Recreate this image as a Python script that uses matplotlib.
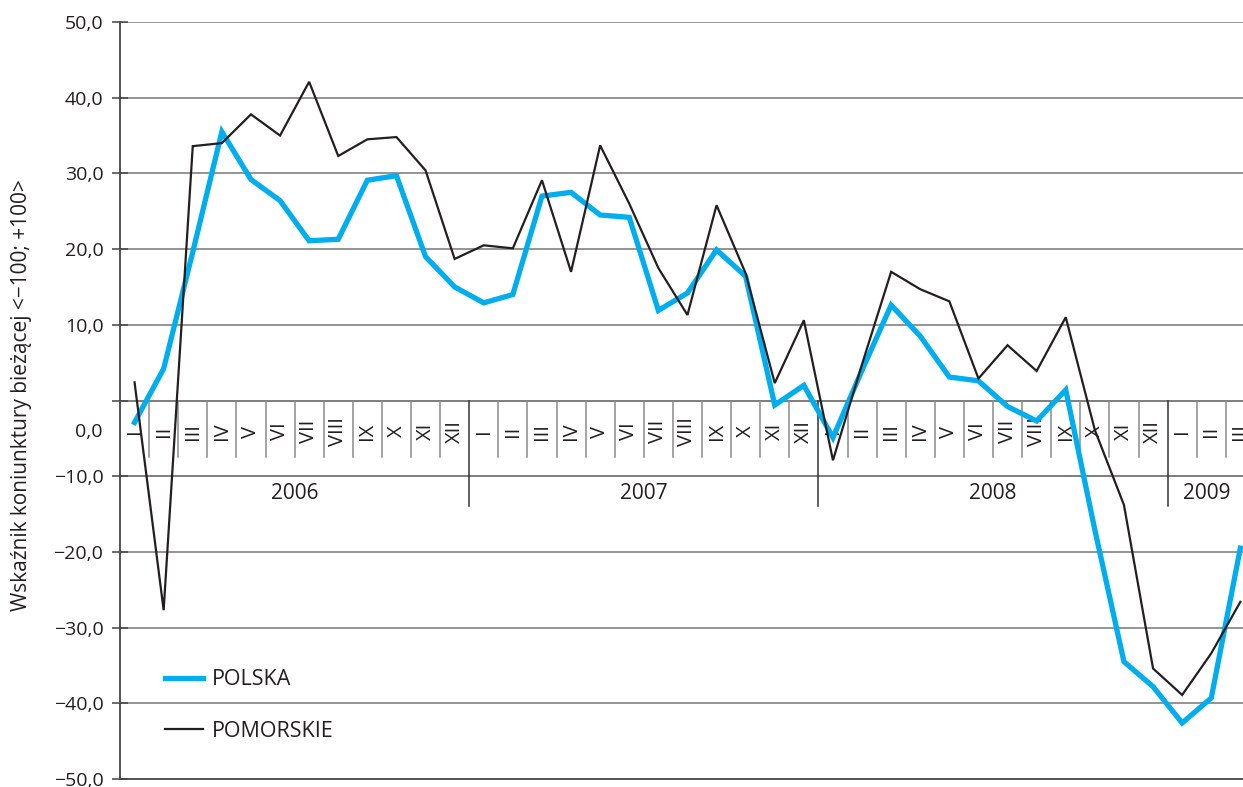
import matplotlib
matplotlib.use("Agg")
import matplotlib.pyplot as plt
from matplotlib.lines import Line2D
from matplotlib.transforms import blended_transform_factory

plt.rcParams['font.family'] = ['Open Sans', 'DejaVu Sans']

# Monthly business climate indicator, Jan 2006 - Mar 2009
months = ["I", "II", "III", "IV", "V", "VI", "VII", "VIII", "IX", "X", "XI", "XII"]
years = ["2006", "2007", "2008", "2009"]

polska = [-2.9, 4.2, 19.6, 35.5, 29.2, 26.4, 21.1, 21.3, 29.1, 29.7, 19.0, 15.0,
          12.9, 14.0, 27.0, 27.5, 24.5, 24.2, 11.9, 14.2, 19.9, 16.4, -0.6, 2.0,
          -4.9, 4.0, 12.6, 8.5, 3.1, 2.6, -0.8, -2.7, 1.4, -17.1, -34.5, -37.8,
          -42.6, -39.3, -19.5]
pomorskie = [2.4, -27.7, 33.6, 34.0, 37.8, 35.0, 42.1, 32.3, 34.5, 34.8, 30.4, 18.7,
             20.5, 20.1, 29.1, 17.0, 33.7, 26.0, 17.5, 11.3, 25.8, 16.8, 2.3, 10.6,
             -7.9, 4.8, 17.0, 14.7, 13.1, 2.9, 7.3, 3.9, 11.0, -3.9, -13.8, -35.4,
             -38.9, -33.4, -26.6]

y_ticks = list(range(-50, 51, 10))

W, H = 1243, 787
fig = plt.figure(figsize=(W / 100, H / 100), dpi=100)
ax = fig.add_axes([120 / W, 8 / H, 1.0 - 120 / W, (779 - 22) / H])

n = len(polska)
x = [i + 0.5 for i in range(n)]
ax.set_xlim(0, (W - 120) / 29.1)
ax.set_ylim(-50, 50)

# horizontal grid
for v in y_ticks:
    if v == -50:
        continue
    col = '#5a5a5a' if v in (0, -10) else '#777777'
    ax.axhline(v, color=col, lw=1.1, zorder=1)

# month / year band below the zero line
band_month_bottom = -7.5
band_year_bottom = -13.9
for b in range(1, n + 1):
    if b % 12 == 0:
        ax.plot([b, b], [0, band_year_bottom], color='#333333', lw=1.1, zorder=1)
    else:
        ax.plot([b, b], [0, band_month_bottom], color='#8a8a8a', lw=1.1, zorder=1)

for i in range(n):
    ax.text(i + 0.5, -4.1, months[i % 12], rotation=90, ha='center', va='center',
            fontsize=14.5, color='#231F20', zorder=2)

year_pos = [6, 18, 30, 37.35]
for yp, ylab in zip(year_pos, years):
    ax.text(yp, -12.35, ylab, ha='center', va='center', fontsize=15,
            color='#231F20', zorder=2)

# series
ax.plot(x, polska, color='#00AEEF', lw=3.8, zorder=4, solid_joinstyle='miter',
        clip_on=False)
ax.plot(x, pomorskie, color='#231F20', lw=1.6, zorder=5, solid_joinstyle='miter',
        clip_on=False)

# axes styling
for s in ['top', 'right']:
    ax.spines[s].set_visible(False)
ax.spines['left'].set_color('#444444')
ax.spines['left'].set_linewidth(1.3)
ax.spines['bottom'].set_color('#444444')
ax.spines['bottom'].set_linewidth(1.3)
ax.set_xticks([])
ax.set_yticks(y_ticks)
ax.set_yticklabels(["" if v == 0 else f"{v:.1f}".replace(".", ",").replace("-", "\u2212")
                    for v in y_ticks])
ax.tick_params(axis='y', direction='inout', length=12, width=1.1, color='#444444',
               labelsize=14, labelcolor='#231F20', pad=6)
trans = blended_transform_factory(ax.transAxes, ax.transData)
ax.annotate("0,0", xy=(0, -4.1), xycoords=trans, xytext=(-12.5, 0),
            textcoords='offset points', ha='right', va='center', fontsize=14,
            color='#231F20')

fig.text(22 / W, (H - 395) / H, "Wskaźnik koniunktury bieżącej <\u2212100; +100>",
         rotation=90, ha='center', va='center', fontsize=15, color='#231F20')

handles = [Line2D([], [], color='#00AEEF', lw=3.8),
           Line2D([], [], color='#231F20', lw=1.6)]
ax.legend(handles, ["POLSKA", "POMORSKIE"], loc='center left',
          bbox_to_anchor=(165 / W, (H - 705.5) / H), bbox_transform=fig.transFigure,
          frameon=False, fontsize=15.5, handlelength=1.75, handletextpad=0.42,
          borderpad=0, borderaxespad=0, labelspacing=1.4, labelcolor='#231F20')

fig.savefig("out.png", dpi=100)
